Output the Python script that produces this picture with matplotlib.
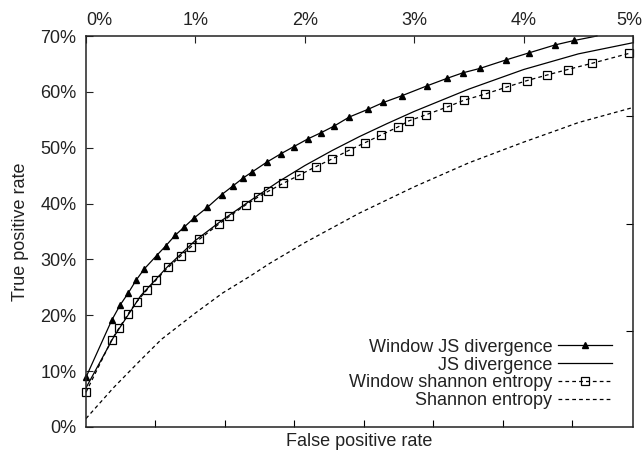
import matplotlib
matplotlib.use('Agg')
import matplotlib.pyplot as plt
import matplotlib.transforms as mtransforms
import numpy as np

plt.rcParams['font.family'] = ['Liberation Sans', 'DejaVu Sans']
plt.rcParams['font.size'] = 13

# false positive rate (%) / true positive rate (%)
win_js_x = [0.0, 0.235, 0.311, 0.387, 0.457, 0.533, 0.646, 0.728, 0.814, 0.898, 0.987,
            1.108, 1.240, 1.346, 1.438, 1.514, 1.651, 1.78, 1.90, 2.03, 2.15, 2.27,
            2.407, 2.581, 2.718, 2.886, 3.120, 3.297, 3.443, 3.601, 3.836, 4.052,
            4.287, 4.463, 4.67]
win_js_y = [8.9, 19.1, 21.8, 24.0, 26.25, 28.3, 30.7, 32.4, 34.3, 35.8, 37.4,
            39.3, 41.6, 43.2, 44.6, 45.6, 47.4, 48.9, 50.2, 51.6, 52.7, 53.9,
            55.5, 56.9, 58.1, 59.3, 61.1, 62.4, 63.4, 64.2, 65.7, 67.0,
            68.4, 69.2, 70.0]

js_x = [0.0, 0.25, 0.5, 0.75, 1.0, 1.25, 1.5, 1.75, 2.0, 2.25, 2.5, 2.75, 3.0,
        3.5, 4.0, 4.5, 5.0]
js_y = [7.0, 16.0, 23.5, 28.8, 33.4, 37.1, 40.5, 43.8, 46.8, 49.5, 52.0, 54.3, 56.5,
        60.5, 64.0, 66.8, 68.8]

win_sh_x = [0.0, 0.235, 0.305, 0.387, 0.463, 0.555, 0.640, 0.753, 0.865, 0.957, 1.036,
            1.219, 1.310, 1.463, 1.575, 1.666, 1.80, 1.95, 2.10, 2.25, 2.40, 2.55,
            2.70, 2.85, 2.95, 3.108, 3.303, 3.455, 3.647, 3.836, 4.028, 4.211,
            4.403, 4.622, 4.966]
win_sh_y = [6.2, 15.6, 17.8, 20.3, 22.4, 24.5, 26.3, 28.6, 30.6, 32.2, 33.6,
            36.4, 37.7, 39.8, 41.2, 42.2, 43.6, 45.1, 46.6, 48.0, 49.5, 50.9,
            52.3, 53.7, 54.8, 55.9, 57.3, 58.5, 59.6, 60.8, 62.0, 63.0,
            64.0, 65.1, 66.9]

sh_x = [0.0, 0.25, 0.5, 0.69, 1.0, 1.25, 1.5, 1.68, 2.0, 2.5, 3.0, 3.5, 4.0, 4.33,
        4.5, 5.0]
sh_y = [1.5, 7.0, 12.0, 15.7, 20.4, 24.0, 27.0, 29.3, 33.0, 38.3, 43.0, 47.3, 51.0,
        53.3, 54.5, 57.2]

top_ticks = [0, 1, 2, 3, 4, 5]
y_ticks = [0, 10, 20, 30, 40, 50, 60, 70]

fig = plt.figure(figsize=(6.44, 4.54), dpi=100)
ax = fig.add_axes([0.1335, 0.0595, 0.8495, 0.8612])

ax.plot(win_js_x, win_js_y, color='black', lw=0.9, marker='^', ms=5,
        mfc='black', mec='black', markevery=slice(0, -1), clip_on=False,
        label='Window JS divergence')
ax.plot(js_x, js_y, color='black', lw=0.9, label='JS divergence')
ax.plot(win_sh_x, win_sh_y, color='black', lw=0.9, dashes=(3, 2.5), marker='s',
        ms=5.5, mfc='none', mec='black', mew=0.9, clip_on=False,
        label='Window shannon entropy')
ax.plot(sh_x, sh_y, color='black', lw=0.9, dashes=(3, 2.5), label='Shannon entropy')

ax.set_xlim(0, 5)
ax.set_ylim(0, 70)

# x labels on top
ax.xaxis.tick_top()
ax.set_xticks(top_ticks)
ax.set_xticklabels([f'{t}%' for t in top_ticks])
ax.tick_params(axis='x', direction='in', length=5, width=0.8, pad=5, colors='#222222')
xl = ax.get_xticklabels()
xl[0].set_ha('left')
xl[-1].set_ha('right')
xl[-1].set_transform(xl[-1].get_transform() +
                     mtransforms.ScaledTranslation(0.09, 0, fig.dpi_scale_trans))

ax.set_yticks(y_ticks)
ax.set_yticklabels([f'{t}%' for t in y_ticks])
ax.tick_params(axis='y', direction='in', length=5, width=0.8, pad=7, colors='#222222')

# bottom and right axis ticks without labels
axb = ax.secondary_xaxis('bottom')
axb.set_xticks(np.arange(1, 8) * 0.6345)
axb.tick_params(direction='in', length=5, width=0.8, labelbottom=False)
axb.spines['bottom'].set_visible(False)
axr = ax.secondary_yaxis('right')
axr.set_yticks([17.1, 36.4, 55.7])
axr.tick_params(direction='in', length=5, width=0.8, labelright=False)
axr.spines['right'].set_visible(False)

for s in ax.spines.values():
    s.set_linewidth(1.1)
    s.set_color('#222222')

ax.set_xlabel('False positive rate', labelpad=4, color='#222222')
ax.xaxis.set_label_position('bottom')
ax.set_ylabel('True positive rate', labelpad=8, color='#222222')

leg = ax.legend(loc='lower right', bbox_to_anchor=(0.9616, 0.045), frameon=False,
                markerfirst=False, handlelength=3.0, handletextpad=0.3,
                labelspacing=0.05, borderpad=0, borderaxespad=0)
for txt in leg.get_texts():
    txt.set_color('#222222')

fig.savefig('out.png', dpi=100)
